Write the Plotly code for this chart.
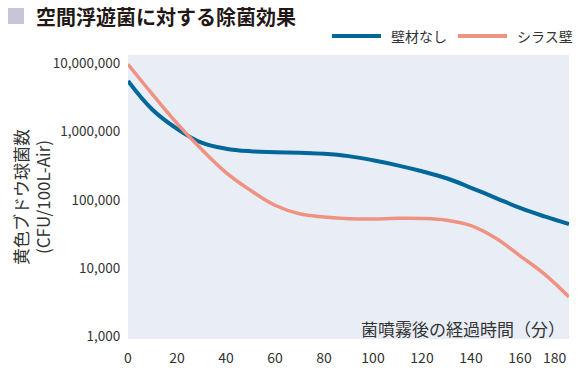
import plotly.graph_objects as go

minutes = [0, 10, 20, 30, 40, 50, 60, 70, 80, 90, 100, 110, 120, 130, 140, 150, 160, 170, 180]
no_wall = [5520000, 2090000, 1100000, 689000, 562000, 515000, 499000, 488000, 472000, 437000,
           380000, 320000, 262000, 207000, 150000, 107000, 75900, 57000, 44000]
shirasu = [9700000, 3510000, 1320000, 550000, 251000, 138000, 83200, 62400, 56000, 52700,
           52200, 53500, 53200, 50100, 41700, 27500, 15100, 8130, 3760]
series_names = ["壁材なし", "シラス壁"]
series_colors = ["#00679a", "#f09282"]
y_tickvals = [1000, 10000, 100000, 1000000, 10000000]
y_ticktext = ["1,000", "10,000", "100,000", "1,000,000", "10,000,000"]
x_tickvals = [0, 20, 40, 60, 80, 100, 120, 140, 160]
x_last_tick = 180

FONT = "Noto Sans CJK JP, Noto Sans, sans-serif"
L, R, T, B = 128, 10, 55, 35
W, H = 579, 374
PW, PH = W - L - R, H - T - B


def px(x):
    return (x - L) / PW


def py(y):
    return 1 - (y - T) / PH


fig = go.Figure()
fig.add_trace(go.Scatter(x=minutes, y=no_wall, name=series_names[0], mode="lines",
                         line=dict(color=series_colors[0], width=4, shape="spline", smoothing=1.1)))
fig.add_trace(go.Scatter(x=minutes, y=shirasu, name=series_names[1], mode="lines",
                         line=dict(color=series_colors[1], width=3.5, shape="spline", smoothing=1.1)))

fig.update_layout(
    width=W, height=H,
    margin=dict(l=L, r=R, t=T, b=B, autoexpand=False),
    paper_bgcolor="white", plot_bgcolor="#e9eef6",
    font=dict(family=FONT, color="#333333", size=13),
    showlegend=False,
    xaxis=dict(range=[0, 180], tickvals=x_tickvals, showgrid=False, zeroline=False,
               ticks="outside", ticklen=6, tickcolor="rgba(0,0,0,0)", automargin=False,
               tickfont=dict(size=14, color="#333333"), showline=False),
    yaxis=dict(type="log", range=[2.959, 7.123], tickvals=y_tickvals, ticktext=y_ticktext,
               showgrid=False, zeroline=False, ticks="outside", ticklen=4, automargin=False,
               tickcolor="rgba(0,0,0,0)", tickfont=dict(size=13.5, color="#333333"), showline=False),
)

# legend drawn in the top margin
legend_items = [(332, 381, 389), (458, 507, 515)]
for (x0, x1, xt), name, color in zip(legend_items, series_names, series_colors):
    fig.add_shape(type="line", xref="paper", yref="paper", x0=px(x0), x1=px(x1),
                  y0=py(36), y1=py(36), line=dict(color=color, width=4))
    fig.add_annotation(text=name, xref="paper", yref="paper", x=px(xt), y=py(36),
                       xanchor="left", yanchor="middle", showarrow=False,
                       font=dict(size=14, color="#333333", family=FONT))

# title with square marker
fig.add_shape(type="rect", xref="paper", yref="paper",
              x0=px(8), x1=px(24), y0=py(24), y1=py(8),
              fillcolor="#c9c4d9", line=dict(width=0))
fig.add_annotation(text="<b>空間浮遊菌に対する除菌効果</b>", xref="paper", yref="paper",
                   x=px(34), y=py(16), xanchor="left", yanchor="middle",
                   showarrow=False, font=dict(size=20, color="#231815", family=FONT))

# y axis title
fig.add_annotation(text="黄色ブドウ球菌数<br>(CFU/100L-Air)", xref="paper", yref="paper",
                   x=px(31), y=py(197), xanchor="center", yanchor="middle", textangle=-90,
                   showarrow=False, font=dict(size=17, color="#333333", family=FONT))

# x axis title inside plot
fig.add_annotation(text="菌噴霧後の経過時間（分）", xref="paper", yref="paper",
                   x=px(567), y=py(328), xanchor="right", yanchor="middle",
                   showarrow=False, font=dict(size=17, color="#333333", family=FONT))

# last x tick label kept inside the figure
fig.add_annotation(text=str(x_last_tick), x=x_last_tick, xref="x", yref="paper",
                   y=py(357), xanchor="right", yanchor="middle",
                   showarrow=False, font=dict(size=14, color="#333333", family=FONT))

fig.write_html("out.html", config={"displayModeBar": False},
               post_script="document.body.style.margin='0';document.body.style.overflow='hidden';")
